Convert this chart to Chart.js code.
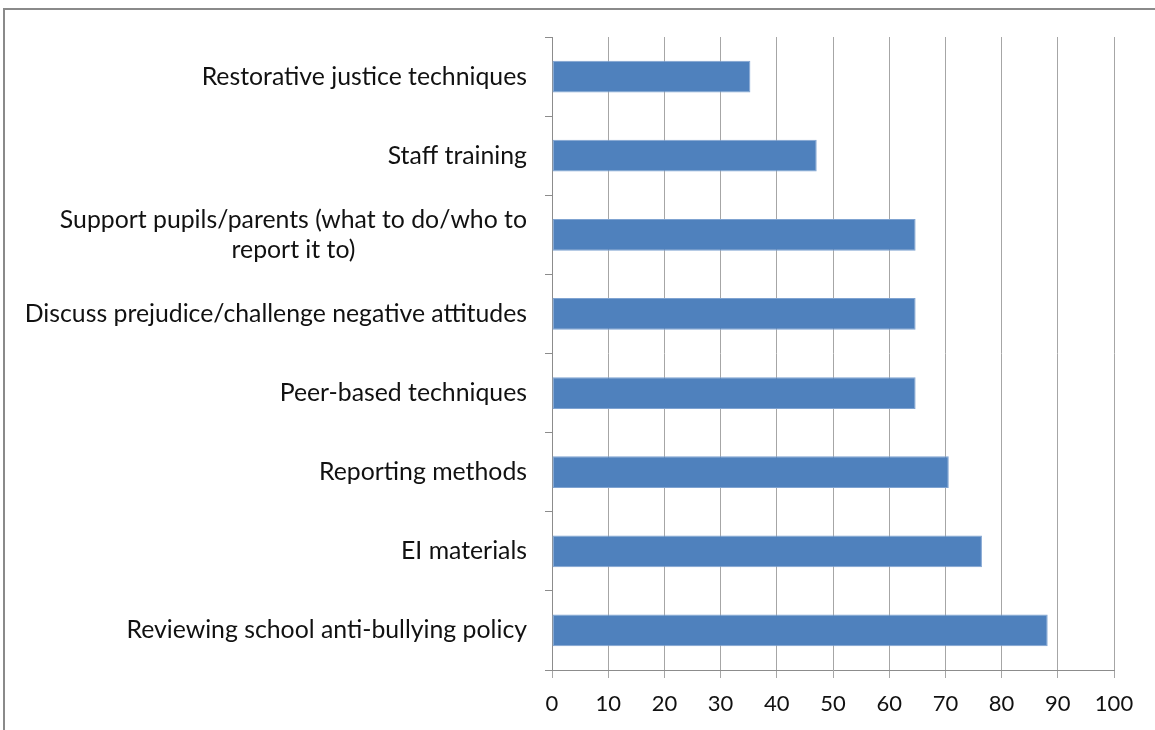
<!DOCTYPE html>
<html>
<head>
<meta charset="utf-8">
<script src="https://cdn.jsdelivr.net/npm/chart.js@4.4.1/dist/chart.umd.min.js"></script>
<style>
  html, body { margin: 0; padding: 0; background: #fff; }
  #frame { position: absolute; left: 3px; top: 8px; width: 1200px; height: 800px;
           border-top: 2px solid #8a8a8a; border-left: 2px solid #8a8a8a; }
  #wrap { position: absolute; left: 0; top: 0; width: 1155px; height: 730px; }
</style>
</head>
<body>
<div id="frame"></div>
<div id="wrap"><canvas id="c" width="1155" height="730"></canvas></div>
<script>
const categories = [
  ["Restorative justice techniques"],
  ["Staff training"],
  ["Support pupils/parents (what to do/who to", "report it to)"],
  ["Discuss prejudice/challenge negative attitudes"],
  ["Peer-based techniques"],
  ["Reporting methods"],
  ["EI materials"],
  ["Reviewing school anti-bullying policy"]
];
const values = [35.3, 47.1, 64.7, 64.7, 64.7, 70.6, 76.5, 88.2];
const xTicks = [0, 10, 20, 30, 40, 50, 60, 70, 80, 90, 100];

const FONT = "Lato, 'Open Sans', sans-serif";
const LABEL_SIZE = 24.8;
const TICK_SIZE = 22;

const labelPlugin = {
  id: 'catLabels',
  afterDraw(chart) {
    const ctx = chart.ctx;
    const y = chart.scales.y;
    const rightEdge = y.right - 25;
    ctx.save();
    ctx.font = LABEL_SIZE + "px " + FONT;
    ctx.fillStyle = "#111";
    ctx.textAlign = "center";
    ctx.textBaseline = "middle";
    const lh = 30;
    categories.forEach((lines, i) => {
      const py = y.getPixelForValue(i);
      const maxW = Math.max(...lines.map(l => ctx.measureText(l).width));
      const cx = rightEdge - maxW / 2;
      const start = py - (lines.length - 1) * lh / 2;
      lines.forEach((l, j) => ctx.fillText(l, cx, start + j * lh));
    });
    ctx.restore();
  }
};

new Chart(document.getElementById('c'), {
  type: 'bar',
  data: {
    labels: categories.map(c => c.join(' ')),
    datasets: [{
      data: values,
      backgroundColor: '#4F81BD',
      borderColor: '#7FA3D1',
      borderWidth: 1,
      borderSkipped: false,
      barPercentage: 0.4,
      categoryPercentage: 1.0
    }]
  },
  options: {
    indexAxis: 'y',
    responsive: false,
    animation: false,
    layout: { padding: { top: 37, right: 41, left: 0, bottom: 0 } },
    plugins: { legend: { display: false }, tooltip: { enabled: false } },
    scales: {
      x: {
        min: 0, max: 100,
        afterBuildTicks(s) { s.ticks = xTicks.map(v => ({ value: v })); },
        afterFit(s) { s.height = 60; },
        grid: { color: '#a6a6a6', lineWidth: 1, tickLength: 8, drawTicks: true },
        border: { color: '#8c8c8c', width: 1 },
        ticks: { color: '#111', font: { family: FONT, size: TICK_SIZE }, padding: 13 }
      },
      y: {
        afterFit(s) { s.width = 552; },
        grid: { offset: true, drawOnChartArea: false, color: '#8c8c8c', tickLength: 7 },
        border: { color: '#8c8c8c', width: 1 },
        ticks: { display: false }
      }
    }
  },
  plugins: [labelPlugin]
});
</script>
</body>
</html>
